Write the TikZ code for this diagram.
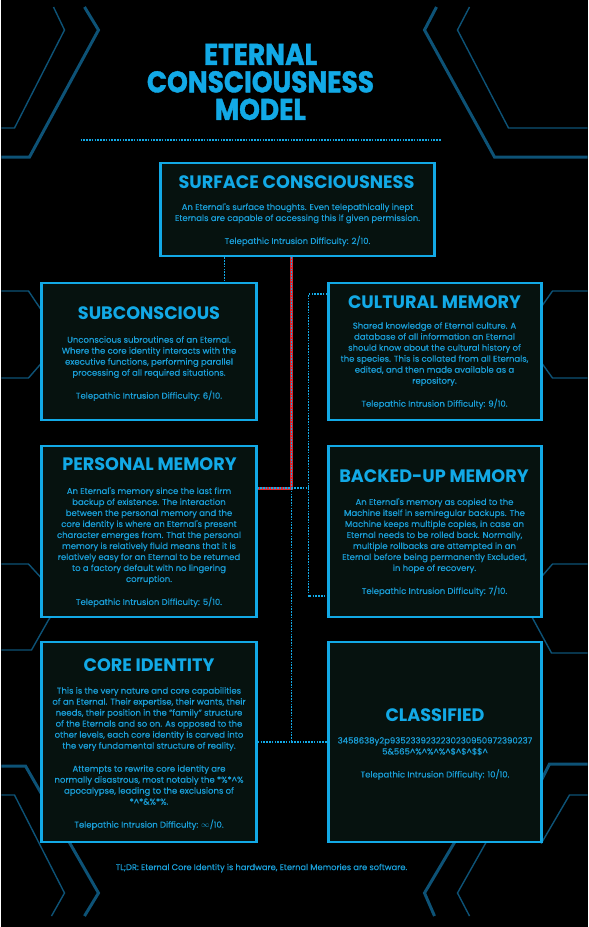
\documentclass[tikz,border=0pt]{standalone}
\usepackage{fontspec}
\setmainfont{Poppins}
\newfontfamily\titlefont[FakeStretch=0.88,FakeBold=1.2]{Poppins}
\newfontfamily\headfont[FakeStretch=0.98]{Poppins}
\newfontfamily\bodyfont[FakeBold=0.4]{Poppins}
\definecolor{Night}{HTML}{000000}
\definecolor{Panel}{HTML}{06120F}
\definecolor{Cyan}{HTML}{12A9E6}
\definecolor{CyanText}{HTML}{1A9FD8}
\definecolor{Deco}{HTML}{0D5276}
\definecolor{Alarm}{HTML}{D8262E}
\newcommand\crt{\textasciicircum}

\begin{document}
\begin{tikzpicture}[x=1pt,y=-1pt,
  panel/.style={draw=Cyan, line width=2.6pt, fill=Panel, inner sep=0pt},
  heading/.style={text=Cyan, inner sep=0pt, font=\headfont\bfseries\fontsize{18}{20}\selectfont},
  blurb/.style={text=CyanText, align=center, anchor=north, inner sep=0pt, font=\bodyfont\fontsize{8.5}{11}\selectfont},
  dotline/.style={Cyan, line width=1.4pt, dash pattern=on 1.6pt off 1.2pt},
  decothick/.style={Deco, line width=3pt},
  decothin/.style={Deco, line width=1.4pt}]
\fill[Night] (0,0) rectangle (586,927);
\draw[decothick] (83,7) -- (97,30) -- (28,157) -- (0,157);
\draw[decothin] (52,7) -- (63,30) -- (13,128) -- (0,128);
\draw[decothick] (435,7) -- (423,30) -- (493,157) -- (586,157);
\draw[decothin] (468,7) -- (456,30) -- (507,128) -- (586,128);
\draw[decothick] (83,916) -- (97,893) -- (24,766) -- (0,766);
\draw[decothin] (50,916) -- (63,893) -- (13,795) -- (0,795);
\draw[decothick] (433,916) -- (423,893) -- (490,780) -- (540,780) -- (548,764) -- (586,764);
\draw[decothin] (468,916) -- (456,893) -- (500,815) -- (540,843) -- (568,795) -- (586,795);
\draw[decothin] (0,291) -- (27,291) -- (60,340) -- (27,378) -- (0,378);
\draw[decothin] (0,564) -- (27,564) -- (60,600) -- (47,620) -- (30,650) -- (0,650);
\draw[decothin] (586,291) -- (551,291) -- (520,335) -- (551,378) -- (586,378);
\draw[decothin] (586,564) -- (551,564) -- (520,600) -- (531,618) -- (550,653) -- (586,653);
\node[text=Cyan, align=center, font=\titlefont\bfseries\fontsize{30}{27.5}\selectfont] (title) at (259,82) {ETERNAL\\CONSCIOUSNESS\\MODEL};
\draw[dotline] (79,140) -- (439,140);
\node[panel, minimum width=274pt, minimum height=93pt] (surface) at (296,209.5) {};
\node[panel, minimum width=215pt, minimum height=137pt] (subcon) at (147.5,351.5) {};
\node[panel, minimum width=213pt, minimum height=137pt] (cultural) at (433.5,351.5) {};
\node[panel, minimum width=215pt, minimum height=171pt] (personal) at (147.5,531.5) {};
\node[panel, minimum width=213pt, minimum height=171pt] (backed) at (433.5,531.5) {};
\node[panel, minimum width=215pt, minimum height=200pt] (core) at (147.5,742) {};
\node[panel, minimum width=213pt, minimum height=200pt] (classified) at (433.5,742) {};
\coordinate (tap) at (223,0);
\coordinate (spine) at (290,488);
\coordinate (railtop) at (307,294);
\coordinate (railbot) at (307,596);
\draw[dotline] (surface.south -| tap) -- (subcon.north -| tap);
\draw[Alarm, line width=3pt] (surface.south -| spine) -- (spine) -- (spine -| personal.east);
\draw[dotline] (surface.south -| spine) -- (spine) -- (spine -| personal.east);
\draw[dotline] (spine) -- (spine -| railtop);
\draw[dotline] (railtop -| cultural.west) -- (railtop) -- (railbot) -- (railbot -| backed.west);
\draw[dotline] (spine) -- (spine |- core.east);
\draw[dotline] (core.east) -- (classified.west);
\node[heading] (surfacehead) at (295,182) {SURFACE CONSCIOUSNESS};
\node[blurb] (surfacetext) at (296,203) {An Eternal's surface thoughts. Even telepathically inept\\Eternals are capable of accessing this if given permission.\\[12pt]Telepathic Intrusion Difficulty: 2/10.};
\node[heading] (subconhead) at (147.5,313) {SUBCONSCIOUS};
\node[blurb] (subcontext) at (147.5,336) {Unconscious subroutines of an Eternal.\\Where the core identity interacts with the\\executive functions, performing parallel\\processing of all required situations.\\[12pt]Telepathic Intrusion Difficulty: 6/10.};
\node[heading] (culturalhead) at (433,302) {CULTURAL MEMORY};
\node[blurb] (culturaltext) at (433,322) {Shared knowledge of Eternal culture. A\\database of all information an Eternal\\should know about the cultural history of\\the species. This is collated from all Eternals,\\edited, and then made available as a\\repository.\\[12pt]Telepathic Intrusion Difficulty: 9/10.};
\node[heading] (personalhead) at (148,464) {PERSONAL MEMORY};
\node[blurb] (personaltext) at (147.5,487) {An Eternal's memory since the last firm\\backup of existence. The interaction\\between the personal memory and the\\core identity is where an Eternal's present\\character emerges from. That the personal\\memory is relatively fluid means that it is\\relatively easy for an Eternal to be returned\\to a factory default with no lingering\\corruption.\\[12pt]Telepathic Intrusion Difficulty: 5/10.};
\node[heading] (backedhead) at (432.5,476) {BACKED-UP MEMORY};
\node[blurb] (backedtext) at (433,498) {An Eternal's memory as copied to the\\Machine itself in semiregular backups. The\\Machine keeps multiple copies, in case an\\Eternal needs to be rolled back. Normally,\\multiple rollbacks are attempted in an\\Eternal before being permanently Excluded,\\in hope of recovery.\\[12pt]Telepathic Intrusion Difficulty: 7/10.};
\node[heading] (corehead) at (147.5,665) {CORE IDENTITY};
\node[blurb] (coretext) at (147.5,687) {This is the very nature and core capabilities\\of an Eternal. Their expertise, their wants, their\\needs, their position in the “family” structure\\of the Eternals and so on. As opposed to the\\other levels, each core identity is carved into\\the very fundamental structure of reality.\\[12pt]Attempts to rewrite core identity are\\normally disastrous, most notably the *\%*\crt\%\\apocalypse, leading to the exclusions of\\*\crt*\&\%*\%.\\[12pt]Telepathic Intrusion Difficulty: $\infty$/10.};
\node[heading] (classifiedhead) at (433.5,715) {CLASSIFIED};
\node[blurb] (classifiedtext) at (433.5,737) {3458638y2p9352339232230230950972390237\\5\&565\crt\%\crt\%\crt\%\crt\$\crt\$\crt\$\$\crt\\[12pt]Telepathic Intrusion Difficulty: 10/10.};
\node[text=CyanText, font=\bodyfont\fontsize{8.3}{11}\selectfont] (tldr) at (260,868) {TL;DR: Eternal Core Identity is hardware, Eternal Memories are software.};
\end{tikzpicture}
\end{document}
